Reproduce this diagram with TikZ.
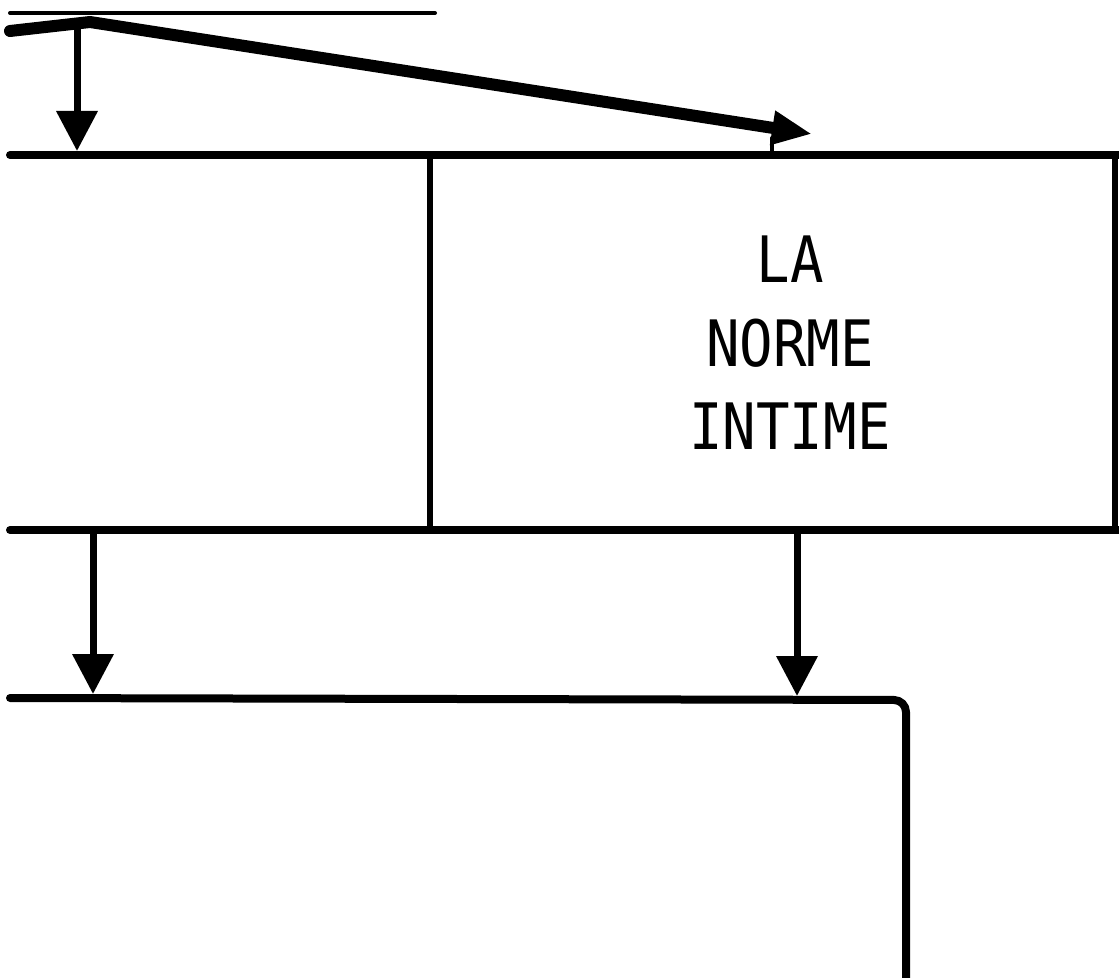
\documentclass[tikz,border=0pt]{standalone}
\usepackage{fontspec}
\usetikzlibrary{arrows.meta}
\newfontfamily\lettering[FakeStretch=0.87]{DejaVu Sans Mono}
\begin{document}
\begin{tikzpicture}[x=0.5pt,y=-0.5pt,line join=round,line cap=round,
  bar/.style={line width=4pt},
  thinbar/.style={line width=2pt},
  wall/.style={line width=3pt},
  flow/.style={line width=3.5pt,-{Triangle[length=20pt,width=20pt]}},
  bigflow/.style={line width=6pt,-{Triangle[length=20pt,width=16pt]}},
  lettering/.style={font=\lettering\fontsize{32}{32}\selectfont,anchor=base,inner sep=0pt}]
\useasboundingbox (0,0) rectangle (1119,978);
% named points
\coordinate (tl) at (10,13);
\coordinate (tr) at (435,13);
\coordinate (s0) at (10,31);
\coordinate (j) at (90,22);
\coordinate (sa) at (812,134);
\coordinate (va0) at (77,24);
\coordinate (va1) at (77,151);
\coordinate (stem0) at (772,138);
\coordinate (stem1) at (772,155);
\coordinate (b1l) at (10,155);
\coordinate (b1r) at (1119,155);
\coordinate (d0) at (430,155);
\coordinate (d1) at (430,530);
\coordinate (e0) at (1115,155);
\coordinate (e1) at (1115,530);
\coordinate (b2l) at (10,530);
\coordinate (b2r) at (1119,530);
\coordinate (la0) at (93,530);
\coordinate (la1) at (93,694);
\coordinate (ra0) at (797,530);
\coordinate (ra1) at (797,696);
\coordinate (b3l) at (10,698);
\coordinate (b3c) at (906,700);
\coordinate (b3e) at (906,978);
% top strokes
\draw[thinbar] (tl) -- (tr);
\draw[bigflow] (s0) -- (j) -- (sa);
\draw[thinbar] (stem0) -- (stem1);
\draw[flow] (va0) -- (va1);
% boxes
\draw[bar] (b1l) -- (b1r);
\draw[wall] (d0) -- (d1);
\draw[wall] (e0) -- (e1);
\draw[bar] (b2l) -- (b2r);
\draw[flow] (la0) -- (la1);
\draw[flow] (ra0) -- (ra1);
\draw[bar,rounded corners=6pt] (b3l) -- (b3c) -- (b3e);
% text
\node[lettering] (t1) at (790,283) {LA};
\node[lettering] (t2) at (790,367) {NORME};
\node[lettering] (t3) at (790,450) {INTIME};
\end{tikzpicture}
\end{document}
